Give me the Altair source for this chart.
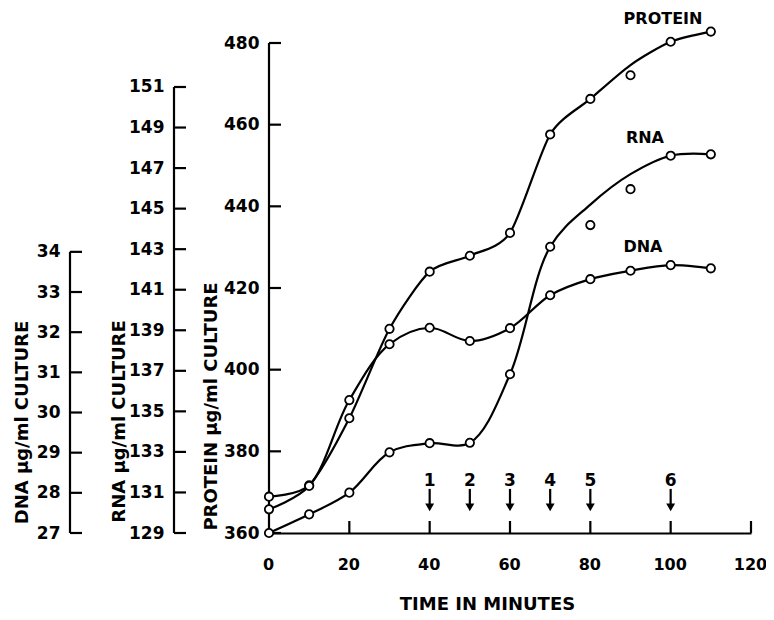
import altair as alt
import pandas as pd

FONT = "DejaVu Sans"

# ---------------- data ----------------
time_min = [0, 10, 20, 30, 40, 50, 60, 70, 80, 90, 100, 110]

protein_obs = [368.9, 371.7, 388.1, 410.0, 424.0, 427.9, 433.5, 457.6, 466.3, 472.1, 480.3, 482.8]
protein_fit = [368.9, 371.7, 388.1, 410.0, 424.0, 427.9, 433.5, 457.6, 466.3, 474.6, 480.3, 482.8]

rna_obs = [129.0, 129.92, 130.99, 132.98, 133.43, 133.45, 136.83, 143.12, 144.19, 145.96, 147.61, 147.68]
rna_fit = [129.0, 129.92, 130.99, 132.98, 133.43, 133.45, 136.83, 143.12, 145.2, 146.7, 147.61, 147.68]

dna_obs = [27.59, 28.17, 30.31, 31.70, 32.11, 31.78, 32.10, 32.92, 33.32, 33.53, 33.67, 33.59]
dna_fit = [27.59, 28.17, 30.31, 31.70, 32.11, 31.78, 32.10, 32.92, 33.32, 33.53, 33.67, 33.59]

x_labels = [0, 20, 40, 60, 80, 100, 120]
x_ticks = [20, 40, 60, 80, 100, 120]
protein_ticks = [360, 380, 400, 420, 440, 460, 480]
rna_ticks = [129, 131, 133, 135, 137, 139, 141, 143, 145, 147, 149, 151]
dna_ticks = [27, 28, 29, 30, 31, 32, 33, 34]

arrow_times = [40, 50, 60, 70, 80, 100]
arrow_labels = ["1", "2", "3", "4", "5", "6"]
# arrow geometry in protein units
ARROW_LABEL_Y = 372.8
ARROW_TOP = 370.8
ARROW_BOTTOM = 367.0
ARROW_HEAD = 366.3

series_names = ["PROTEIN", "RNA", "DNA"]
series_label_t = [98.1, 93.6, 93.1]
series_label_y = [486.0, 456.7, 430.0]  # protein units

P_DOMAIN = [360, 480]
R_DOMAIN = [129, 153.17]
D_DOMAIN = [27, 39.2]

W, H = 482, 490
TICK = 12
RNA_OFF = 95
DNA_OFF = 199
LW = 2.2

# ---------------- helpers ----------------
x_axis = alt.Axis(values=x_labels, ticks=False, tickSize=0, domain=True,
                  domainColor="black", domainWidth=LW, labelPadding=23,
                  labelFontSize=16, labelOffset=-1,
                  labelFlush=False, grid=False, title="TIME IN MINUTES",
                  titleX=218, titleY=71, titleAlign="center", titleBaseline="middle")
x_scale = alt.Scale(domain=[0, 120], nice=False, zero=False)


def X(field):
    return alt.X(field, type="quantitative", scale=x_scale, axis=x_axis)


def make_y(domain, values, offset, title, title_x, title_y):
    axis = alt.Axis(orient="left", offset=offset, values=values, domain=False,
                    ticks=False, tickSize=0, labelPadding=10, labelFlush=False,
                    grid=False, title=title, titleX=title_x, titleY=title_y,
                    titleAngle=270, titleAlign="center", titleBaseline="middle")
    scale = alt.Scale(domain=domain, nice=False, zero=False)

    def Y(field):
        return alt.Y(field, type="quantitative", scale=scale, axis=axis)
    return Y


Yp = make_y(P_DOMAIN, protein_ticks, 0, "PROTEIN  \u03bcg/ml CULTURE", -58, 363)
Yr = make_y(R_DOMAIN, rna_ticks, RNA_OFF, "RNA  \u03bcg/ml CULTURE", -55, 378)
Yd = make_y(D_DOMAIN, dna_ticks, DNA_OFF, "DNA  \u03bcg/ml CULTURE", -48, 379)


def series_layer(obs, fit, Y, ticks, lo, hi, axis_x, line_kw):
    df = pd.DataFrame({"t": time_min, "obs": obs, "fit": fit})
    line = alt.Chart(df).mark_line(color="black", strokeWidth=LW,
                                   **line_kw).encode(x=X("t"), y=Y("fit"))
    pts = alt.Chart(df).mark_point(shape="circle", filled=True, fill="white",
                                   stroke="black", strokeWidth=1.8, size=70,
                                   opacity=1).encode(x=X("t"), y=Y("obs"))
    axline = alt.Chart(pd.DataFrame({"lo": [lo], "hi": [hi]})).mark_rule(
        color="black", strokeWidth=LW).encode(
        y=Y("lo"), y2=alt.Y2("hi"), x=alt.value(axis_x))
    tk = alt.Chart(pd.DataFrame({"v": ticks})).mark_rule(
        color="black", strokeWidth=LW).encode(
        y=Y("v"), x=alt.value(axis_x), x2=alt.value(axis_x + TICK))
    return [axline, tk, line, pts]


# ---------------- protein group (with annotations) ----------------
p_layers = series_layer(protein_obs, protein_fit, Yp, protein_ticks, 360, 480, 0,
                        {"interpolate": "cardinal", "tension": 0.25})

xt = alt.Chart(pd.DataFrame({"t": x_ticks})).mark_rule(
    color="black", strokeWidth=LW).encode(
    x=X("t"), y=alt.value(H - TICK), y2=alt.value(H))

arr_df = pd.DataFrame({
    "t": arrow_times, "lab": arrow_labels,
    "ly": [ARROW_LABEL_Y] * len(arrow_times),
    "top": [ARROW_TOP] * len(arrow_times),
    "bot": [ARROW_BOTTOM] * len(arrow_times),
    "head": [ARROW_HEAD] * len(arrow_times),
})
shaft = alt.Chart(arr_df).mark_rule(color="black", strokeWidth=LW).encode(
    x=X("t"), y=Yp("top"), y2=alt.Y2("bot"))
head = alt.Chart(arr_df).mark_point(shape="triangle-down", filled=True,
                                    color="black", size=80, opacity=1).encode(
    x=X("t"), y=Yp("head"))
alab = alt.Chart(arr_df).mark_text(font=FONT, fontSize=17, fontWeight="bold",
                                   color="black", baseline="middle").encode(
    x=X("t"), y=Yp("ly"), text="lab:N")

ser_df = pd.DataFrame({"t": series_label_t, "y": series_label_y, "name": series_names})
slab = alt.Chart(ser_df).mark_text(font=FONT, fontSize=16, fontWeight="bold",
                                   color="black", baseline="middle").encode(
    x=X("t"), y=Yp("y"), text="name:N")

protein_group = alt.layer(*p_layers, xt, shaft, head, alab, slab)
rna_group = alt.layer(*series_layer(rna_obs, rna_fit, Yr, rna_ticks, 129, 151, -RNA_OFF,
                                    {"interpolate": "catmull-rom"}))
dna_group = alt.layer(*series_layer(dna_obs, dna_fit, Yd, dna_ticks, 27, 34, -DNA_OFF,
                                    {"interpolate": "catmull-rom"}))

chart = alt.layer(protein_group, rna_group, dna_group).resolve_scale(
    y="independent"
).properties(
    width=W, height=H,
    autosize=alt.AutoSizeParams(type="none"),
    padding={"left": 261, "top": 35, "right": 15, "bottom": 79},
    background="white",
).configure_axis(
    labelFont=FONT, labelFontSize=17, labelFontWeight="bold", labelColor="black",
    titleFont=FONT, titleFontSize=18, titleFontWeight="bold", titleColor="black",
).configure_view(stroke=None)

chart.save("out.html", embed_options={"renderer": "svg", "actions": False})
